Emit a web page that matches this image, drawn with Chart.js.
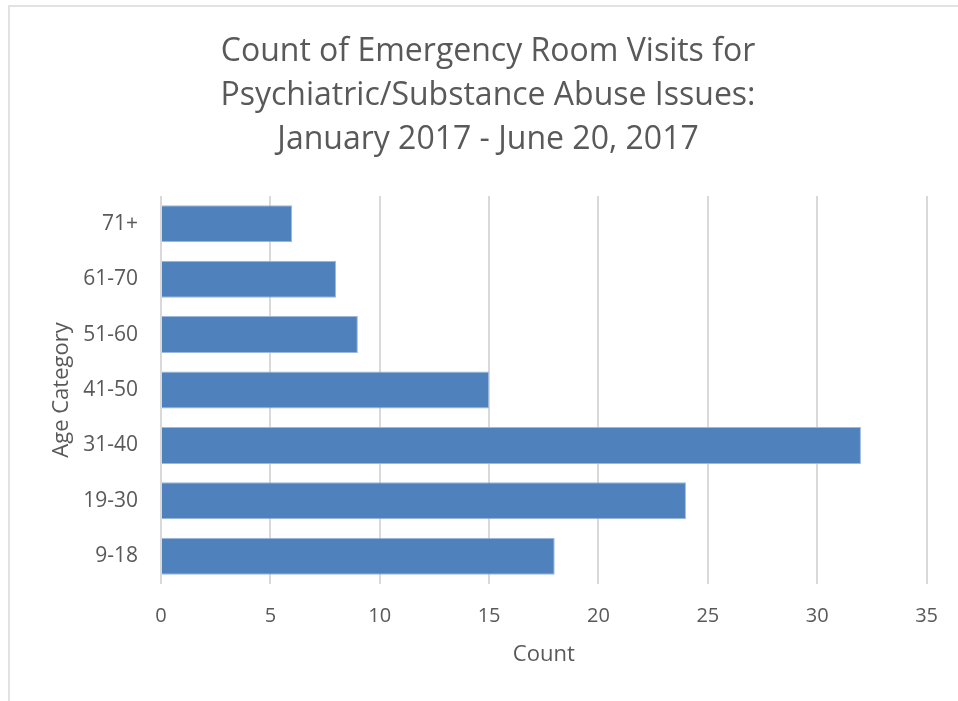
<!DOCTYPE html>
<html>
<head>
<meta charset="utf-8">
<script src="https://cdn.jsdelivr.net/npm/chart.js@4/dist/chart.umd.min.js"></script>
<style>
  html, body { margin: 0; padding: 0; background: #ffffff; }
  #wrap { position: relative; width: 958px; height: 701px; }
</style>
</head>
<body>
<div id="wrap"><canvas id="c" width="958" height="701"></canvas></div>
<script>
// Data (top to bottom as shown)
const categories = ['71+', '61-70', '51-60', '41-50', '31-40', '19-30', '9-18'];
const counts = [6, 8, 9, 15, 32, 24, 18];
const titleLines = ['Count of Emergency Room Visits for', 'Psychiatric/Substance Abuse Issues:', 'January 2017 - June 20, 2017'];
const xAxisTitle = 'Count';
const yAxisTitle = 'Age Category';
const xMin = 0, xMax = 35, xStep = 5;

const textColor = '#595959';
const fontFamily = '"Open Sans", "Noto Sans", sans-serif';

const frame = {
  id: 'frame',
  beforeDraw(chart) {
    const ctx = chart.ctx;
    ctx.save();
    ctx.fillStyle = '#ffffff';
    ctx.fillRect(0, 0, chart.width, chart.height);
    ctx.strokeStyle = '#d9d9d9';
    ctx.lineWidth = 1.5;
    ctx.beginPath();
    ctx.moveTo(9, chart.height);
    ctx.lineTo(9, 6);
    ctx.lineTo(chart.width, 6);
    ctx.stroke();
    ctx.restore();
  }
};

new Chart(document.getElementById('c'), {
  type: 'bar',
  data: {
    labels: categories,
    datasets: [{
      data: counts,
      backgroundColor: '#4f81bd',
      borderColor: '#9db8da',
      borderWidth: 1,
      barPercentage: 0.667,
      categoryPercentage: 1.0
    }]
  },
  options: {
    indexAxis: 'y',
    responsive: false,
    animation: false,
    devicePixelRatio: 1,
    layout: { padding: { left: 49, right: 31, top: 0, bottom: 0 } },
    plugins: {
      legend: { display: false },
      tooltip: { enabled: false },
      title: {
        display: true,
        text: titleLines,
        color: textColor,
        font: { family: fontFamily, size: 32, weight: 'normal', lineHeight: '44px' },
        padding: { top: 30, bottom: 34 }
      }
    },
    scales: {
      x: {
        min: xMin, max: xMax,
        ticks: { stepSize: xStep, color: textColor, padding: 20,
                 font: { family: fontFamily, size: 20 } },
        grid: { color: '#d9d9d9', lineWidth: 2, drawTicks: false },
        border: { display: false },
        title: { display: true, text: xAxisTitle, color: textColor,
                 font: { family: fontFamily, size: 22 }, padding: { top: 0, bottom: 33 } },
        afterFit(scale) { scale.height = 117; }
      },
      y: {
        ticks: { color: textColor, padding: 23,
                 font: { family: fontFamily, size: 21 } },
        grid: { display: false, drawTicks: false },
        border: { display: false },
        title: { display: true, text: yAxisTitle, color: textColor,
                 font: { family: fontFamily, size: 22 }, padding: { top: 0, bottom: 0 } },
        afterFit(scale) { scale.width = 112; }
      }
    }
  },
  plugins: [frame]
});
</script>
</body>
</html>
